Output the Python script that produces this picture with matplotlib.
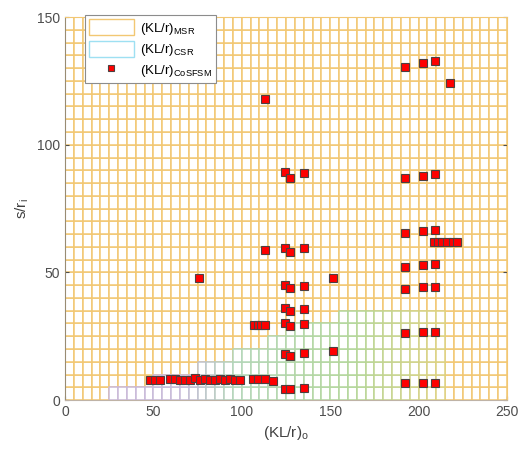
import numpy as np
import matplotlib.pyplot as plt
from matplotlib.patches import Rectangle
from matplotlib.collections import PatchCollection
from matplotlib.colors import LinearSegmentedColormap

plt.rcParams['font.family'] = ['Liberation Sans', 'DejaVu Sans']
plt.rcParams['mathtext.fontset'] = 'custom'
plt.rcParams['mathtext.rm'] = 'Liberation Sans'
plt.rcParams['mathtext.it'] = 'Liberation Sans'

# search domain (cells of 5 x 5)
x_max, y_max, cell = 250, 150, 5

# CSR upper bound of s/r_i for each 5-wide column of (KL/r)_o, starting at 0
csr_top = [0, 0, 0, 0, 0,
           5, 5, 5, 5, 5,
           10, 10, 10, 10, 10,
           15, 15, 15, 15,
           20, 20, 20, 20,
           25, 25,
           30, 30, 30, 30, 30, 30,
           35, 35, 35, 35, 35, 35, 35, 35, 35, 35, 35, 35,
           0, 0, 0, 0, 0, 0, 0]

# CoSFSM optimum points
kl_opt = [48.1, 50.9, 53.7, 59.4, 62.2, 65.0, 67.9, 70.7, 73.5, 76.4, 79.2,
          82.0, 84.8, 87.7, 90.5, 93.3, 96.2, 99.0, 106.5, 109.4, 113.1, 117.8,
          124.4, 127.3, 135.4,
          124.4, 127.3, 135.4, 151.8,
          107.0, 109.0, 111.0, 113.0, 124.4, 127.3, 135.4,
          124.4, 127.3, 135.4,
          75.8, 124.4, 127.3, 135.2, 151.4,
          113.1, 124.4, 127.3, 135.2,
          124.4, 127.3, 135.2,
          113.1,
          192.3, 202.7, 209.3,
          192.3, 202.7, 209.3,
          192.3, 202.7, 209.3,
          192.3, 202.7, 209.3,
          208.7, 211.0, 213.0, 216.2, 219.6, 221.5,
          192.3, 202.7, 209.3,
          192.3, 202.7, 209.3,
          192.3, 202.7, 209.3, 217.8]
s_opt = [7.8, 7.8, 7.8, 8.2, 8.4, 8.0, 7.9, 7.8, 8.6, 8.0, 8.2,
         8.0, 7.8, 8.2, 7.9, 8.3, 8.0, 7.9, 8.3, 8.3, 8.2, 7.4,
         4.3, 4.3, 4.6,
         17.9, 17.4, 18.3, 19.3,
         29.4, 29.4, 29.4, 29.4, 30.0, 29.1, 29.6,
         35.9, 35.0, 35.6,
         47.7, 45.0, 43.7, 44.6, 47.7,
         58.8, 59.7, 57.8, 59.4,
         89.4, 87.1, 88.8,
         117.8,
         6.5, 6.5, 6.5,
         26.4, 26.8, 26.8,
         43.6, 44.1, 44.1,
         52.2, 52.9, 53.2,
         62.0, 62.0, 62.0, 62.0, 62.0, 62.0,
         65.3, 66.2, 66.6,
         86.8, 87.9, 88.5,
         130.4, 132.1, 132.9, 124.3]

fig = plt.figure(figsize=(5.2, 4.5), dpi=100)
ax = fig.add_axes([0.125, 0.111, 0.85, 0.851])

orange = (0.95, 0.78, 0.45)
cyan = (0.62, 0.88, 0.95)

# MSR grid
msr = [Rectangle((x, y), cell, cell)
       for x in np.arange(0, x_max, cell) for y in np.arange(0, y_max, cell)]
ax.add_collection(PatchCollection(msr, facecolor='white', edgecolor=orange,
                                  linewidth=1.1, zorder=1))

# CSR cells, edge colour shifting along (KL/r)_o
csr_cmap = LinearSegmentedColormap.from_list(
    'csr', [(0.0, (0.80, 0.72, 0.84)), (0.3, (0.78, 0.73, 0.85)),
            (0.45, (0.70, 0.84, 0.72)), (0.75, (0.70, 0.84, 0.60)),
            (1.0, (0.88, 0.82, 0.50))])
csr, csr_col = [], []
for i, top in enumerate(csr_top):
    x = i * cell
    for y in np.arange(0, top, cell):
        csr.append(Rectangle((x, y), cell, cell))
        csr_col.append(csr_cmap(x / 215))
ax.add_collection(PatchCollection(csr, facecolor='white', edgecolor=csr_col,
                                  linewidth=1.1, zorder=2))

ax.plot(kl_opt, s_opt, 's', color='red', markeredgecolor=(0.3, 0.25, 0.25),
        markeredgewidth=0.8, markersize=5.3, zorder=5, clip_on=False)

ax.set_xlim(0, x_max)
ax.set_ylim(0, y_max)
ax.set_xticks(np.arange(0, 251, 50))
ax.set_yticks([0, 50, 100, 150])
ax.tick_params(direction='in', length=3, labelsize=10, colors=(0.3, 0.3, 0.3),
               top=False, right=True)
for s in ax.spines.values():
    s.set_color(orange)
    s.set_zorder(3)
ax.spines['left'].set_color((0.6, 0.55, 0.45))
ax.spines['bottom'].set_color((0.75, 0.7, 0.65))

ax.set_xlabel('(KL/r)$_\\mathrm{o}$', fontsize=11, color=(0.25, 0.25, 0.25))
ax.set_ylabel('s/r$_\\mathrm{i}$', fontsize=11, color=(0.25, 0.25, 0.25))

h_msr = Rectangle((0, 0), 1, 1, facecolor='white', edgecolor=orange)
h_csr = Rectangle((0, 0), 1, 1, facecolor='white', edgecolor=cyan)
h_opt, = ax.plot([], [], 's', color='red', markeredgecolor=(0.3, 0.25, 0.25),
                 markeredgewidth=0.8, markersize=5)
leg = ax.legend([h_msr, h_csr, h_opt],
                ['(KL/r)$_\\mathrm{MSR}$', '(KL/r)$_\\mathrm{CSR}$',
                 '(KL/r)$_\\mathrm{CoSFSM}$'],
                loc='upper left', bbox_to_anchor=(0.045, 1.005), fontsize=9.5,
                fancybox=False, framealpha=1, edgecolor=(0.55, 0.55, 0.55),
                handlelength=3.4, handleheight=1.5, borderpad=0.3,
                labelspacing=0.3, handletextpad=0.5, borderaxespad=0)
leg.get_frame().set_linewidth(0.8)
leg.set_zorder(10)

fig.savefig('out.png', dpi=100)
